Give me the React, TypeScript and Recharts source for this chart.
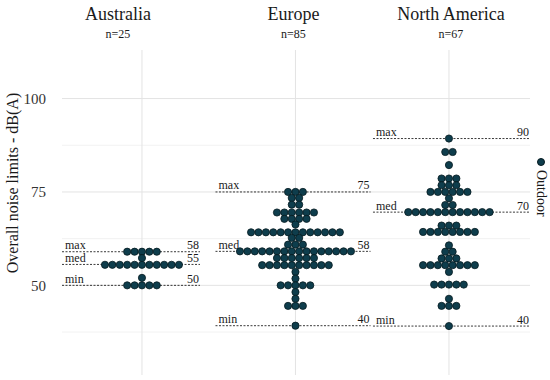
import React from 'react';
import {
  ScatterChart,
  Scatter,
  XAxis,
  YAxis,
  ReferenceLine,
} from 'recharts';

// facets
const groups = ['Australia', 'Europe', 'North America'];
const groupN = ['n=25', 'n=85', 'n=67'];

// dot rows per facet: row value (dB(A)) and number of dots in that row
const australiaRows = [59.0, 57.3, 55.5, 52.0, 50.0];
const australiaCounts = [5, 1, 11, 1, 5];

const europeRows = [75.0, 73.4, 71.6, 69.5, 67.8, 66.3, 64.2, 62.7, 60.9, 59.1, 57.3, 55.4, 53.6, 51.8, 50.0, 48.2, 46.4, 44.5, 39.2];
const europeCounts = [3, 2, 2, 6, 4, 1, 13, 2, 3, 16, 6, 10, 1, 1, 5, 1, 1, 3, 1];

const northAmericaRows = [89.3, 85.7, 82.2, 78.6, 76.8, 75.0, 73.3, 71.5, 69.6, 66.0, 64.3, 60.7, 59.0, 57.2, 55.4, 53.6, 50.2, 46.4, 44.5, 39.1];
const northAmericaCounts = [1, 2, 1, 3, 3, 6, 1, 2, 12, 3, 8, 1, 2, 3, 8, 1, 5, 1, 3, 1];

// summary lines: where they sit and what they read
const maxAt = [59.0, 75.0, 89.3];
const medAt = [55.6, 59.1, 69.6];
const minAt = [50.0, 39.2, 39.1];
const maxLabel = ['58', '75', '90'];
const medLabel = ['55', '58', '70'];
const minLabel = ['50', '40', '40'];

const yTicks = [50, 75, 100];
const yMinor = [37.5, 62.5, 87.5];

// layout
const X_DOMAIN: [number, number] = [0.479, 3.528];
const Y_DOMAIN: [number, number] = [26, 113];
const DOT_STEP = 0.0482;
const segStart = [0.479, 1.479, 2.505];
const segEnd = [1.378, 2.489, 3.528];
const titleShift = [-24, -2, 2];
const DOT_FILL = '#0e3d4c';
const FONT = "'Liberation Serif', 'DejaVu Serif', serif";

const buildDots = (rows: number[], counts: number[], g: number) => {
  const pts: { x: number; y: number }[] = [];
  rows.forEach((v, i) => {
    const n = counts[i];
    for (let k = 0; k < n; k++) {
      pts.push({ x: g + 1 + (k - (n - 1) / 2) * DOT_STEP, y: v });
    }
  });
  return pts;
};

const dots = [
  ...buildDots(australiaRows, australiaCounts, 0),
  ...buildDots(europeRows, europeCounts, 1),
  ...buildDots(northAmericaRows, northAmericaCounts, 2),
];

const Dot = (props: any) => (
  <circle cx={props.cx} cy={props.cy} r={3.6} fill={DOT_FILL} stroke="#061a20" strokeWidth={0.8} />
);

const FacetTitle = (props: any) => {
  const { x, y, payload } = props;
  const i = Math.round(payload.value) - 1;
  const cx = x + titleShift[i];
  return (
    <g>
      <text x={cx} y={y - 22} textAnchor="middle" fontSize={18} fill="#1a1a1a" fontFamily={FONT}>
        {groups[i]}
      </text>
      <text x={cx} y={y - 4} textAnchor="middle" fontSize={12} fill="#1a1a1a" fontFamily={FONT}>
        {groupN[i]}
      </text>
    </g>
  );
};

const statLabel = (left: string, right: string) => (p: any) => {
  const vb = p.viewBox || {};
  const x = vb.x ?? 0;
  const y = vb.y ?? 0;
  const w = vb.width ?? 0;
  return (
    <g>
      <text x={x + 3} y={y - 2.5} fontSize={12} fill="#1a1a1a" fontFamily={FONT}>
        {left}
      </text>
      <text x={x + w - 1} y={y - 2.5} fontSize={12} fill="#1a1a1a" fontFamily={FONT} textAnchor="end">
        {right}
      </text>
    </g>
  );
};

const App = () => {
  const stats: { at: number[]; lab: string[]; name: string }[] = [
    { at: maxAt, lab: maxLabel, name: 'max' },
    { at: medAt, lab: medLabel, name: 'med' },
    { at: minAt, lab: minLabel, name: 'min' },
  ];

  return (
    <div style={{ position: 'absolute', left: 0, top: 0, width: 550, height: 380, background: '#fff', fontFamily: FONT }}>
      <ScatterChart width={550} height={380} margin={{ top: 0, right: 20, bottom: 5, left: 22 }}>
        <XAxis
          orientation="top"
          type="number"
          dataKey="x"
          domain={X_DOMAIN}
          ticks={[1, 2, 3]}
          interval={0}
          height={50}
          axisLine={false}
          tickLine={false}
          tick={<FacetTitle />}
        />
        <YAxis
          type="number"
          dataKey="y"
          domain={Y_DOMAIN}
          ticks={yTicks}
          width={40}
          axisLine={false}
          tickLine={false}
          tickMargin={10}
          tick={{ fontSize: 15, fill: '#333', fontFamily: FONT }}
          label={{
            content: () => (
              <text transform="translate(18,183) rotate(-90)" textAnchor="middle" fontSize={16} fill="#1a1a1a" fontFamily={FONT}>
                Overall noise limits - dB(A)
              </text>
            ),
          }}
        />
        {yMinor.map((v) => (
          <ReferenceLine key={'mn' + v} y={v} stroke="#f2f2f2" strokeWidth={1} />
        ))}
        {yTicks.map((v) => (
          <ReferenceLine key={'mj' + v} y={v} stroke="#e3e3e3" strokeWidth={1} />
        ))}
        {groups.map((g, i) => (
          <ReferenceLine key={'v' + g} x={i + 1} stroke="#e3e3e3" strokeWidth={1} />
        ))}
        {stats.map((s) =>
          groups.map((g, i) => (
            <ReferenceLine
              key={s.name + g}
              segment={[
                { x: segStart[i], y: s.at[i] },
                { x: segEnd[i], y: s.at[i] },
              ]}
              stroke="#222"
              strokeWidth={0.9}
              strokeDasharray="2 1.5"
              ifOverflow="visible"
              label={statLabel(s.name, s.lab[i])}
            />
          ))
        )}
        <Scatter name="Outdoor" data={dots} shape={<Dot />} isAnimationActive={false} />
      </ScatterChart>
      <div style={{ position: 'absolute', left: 534, top: 158, display: 'flex', flexDirection: 'column', alignItems: 'center' }}>
        <span style={{ width: 8, height: 8, borderRadius: '50%', background: DOT_FILL, border: '0.8px solid #061a20', boxSizing: 'border-box' }} />
        <span style={{ writingMode: 'vertical-rl', fontSize: 14, color: '#1a1a1a', marginTop: 4, lineHeight: '14px' }}>Outdoor</span>
      </div>
    </div>
  );
};

export default App;
